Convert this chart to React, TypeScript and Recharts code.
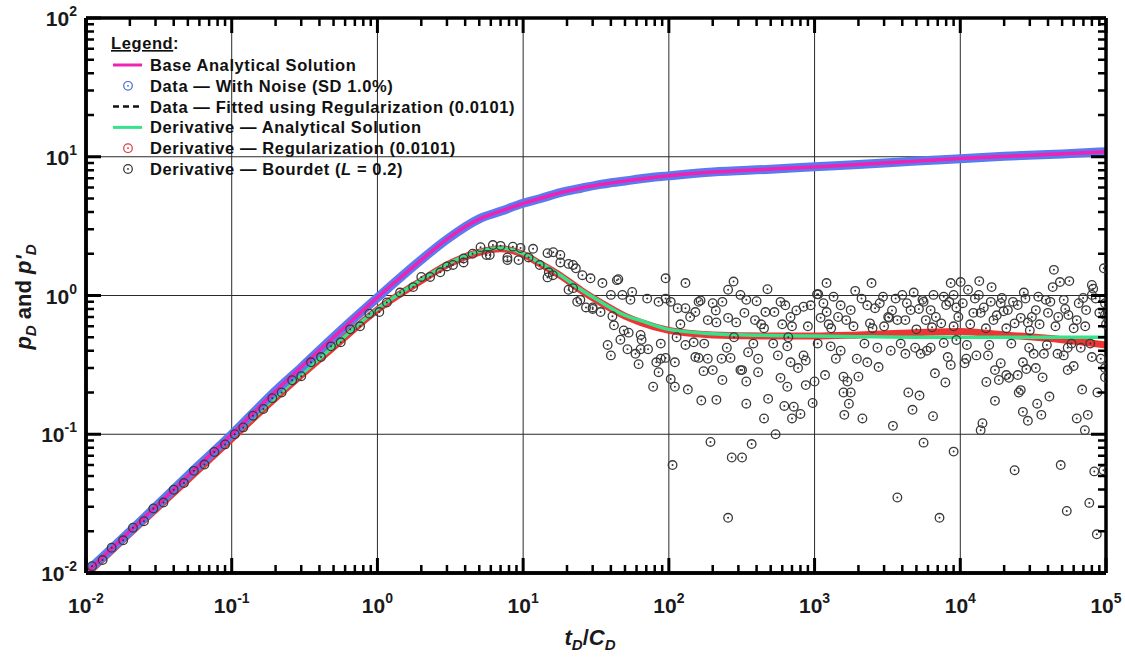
import React from "react";
import { ComposedChart, XAxis, YAxis, CartesianGrid, Line, Scatter, ReferenceLine } from "recharts";

// dimensionless time grid for the smooth curves
const timeGrid = [
  0.01, 0.02, 0.05, 0.1, 0.2, 0.3, 0.5, 1, 2, 3, 5, 7, 10, 13, 18, 25, 34, 50, 64, 100,
  200, 500, 1000, 2000, 5000, 10000, 20000, 50000, 100000,
];
const basePressure = [
  0.01, 0.02, 0.05, 0.1, 0.205, 0.305, 0.5, 0.97, 1.8, 2.55, 3.55, 4.05, 4.6, 5.0, 5.5, 5.95,
  6.3, 6.7, 6.92, 7.3, 7.75, 8.15, 8.45, 8.8, 9.3, 9.7, 10.05, 10.5, 10.85,
];
const noisyPressure = [
  0.0101, 0.0199, 0.0503, 0.0995, 0.206, 0.303, 0.502, 0.965, 1.81, 2.54, 3.57, 4.04, 4.62, 4.98,
  5.52, 5.93, 6.32, 6.68, 6.94, 7.28, 7.77, 8.13, 8.47, 8.78, 9.32, 9.68, 10.07, 10.48, 10.87,
];
const fittedPressure = [
  0.01, 0.02, 0.05, 0.1, 0.205, 0.305, 0.5, 0.97, 1.8, 2.55, 3.55, 4.05, 4.6, 5.0, 5.5, 5.95,
  6.3, 6.7, 6.92, 7.3, 7.75, 8.15, 8.45, 8.8, 9.3, 9.7, 10.05, 10.5, 10.85,
];
const derivAnalytical = [
  0.0098, 0.0195, 0.048, 0.094, 0.185, 0.27, 0.43, 0.8, 1.3, 1.68, 2.08, 2.2, 2.0, 1.72, 1.4, 1.1,
  0.9, 0.72, 0.66, 0.57, 0.53, 0.515, 0.51, 0.505, 0.5, 0.5, 0.5, 0.5, 0.5,
];
const derivRegularized = [
  0.0097, 0.0193, 0.047, 0.093, 0.183, 0.267, 0.425, 0.79, 1.28, 1.66, 2.05, 2.17, 1.98, 1.7, 1.39,
  1.09, 0.89, 0.71, 0.64, 0.56, 0.52, 0.51, 0.51, 0.52, 0.54, 0.55, 0.52, 0.48, 0.44,
];

// Bourdet derivative (L = 0.2): [tD/CD, p'D]
const bourdetPoints: [number, number][] = [
  [0.011, 0.0112], [0.013, 0.0124], [0.015, 0.0152], [0.018, 0.0172], [0.021, 0.0212], [0.025, 0.0236],
  [0.029, 0.0292], [0.034, 0.0322], [0.04, 0.0398], [0.047, 0.0445], [0.055, 0.0545], [0.065, 0.0605],
  [0.076, 0.0745], [0.09, 0.0845], [0.105, 0.1], [0.12, 0.112], [0.14, 0.136], [0.165, 0.152],
  [0.19, 0.182], [0.22, 0.2], [0.26, 0.245], [0.3, 0.262], [0.35, 0.33], [0.41, 0.36], [0.48, 0.43],
  [0.56, 0.46], [0.65, 0.57], [0.76, 0.6], [0.88, 0.74], [1.03, 0.76], [1.16, 0.89], [1.43, 1.05],
  [1.76, 1.15], [2.0, 1.36], [2.3, 1.36], [2.7, 1.47], [3.0, 1.62], [3.3, 1.66], [3.9, 1.85],
  [3.9, 1.73], [4.5, 2.0], [5.1, 2.23], [5.6, 1.96], [5.9, 1.96], [6.2, 2.31], [7.0, 2.28],
  [7.8, 1.8], [7.8, 1.88], [8.5, 2.25], [9.3, 1.8], [9.6, 2.2], [10.9, 1.88], [11.7, 2.17], [13, 1.66],
  [14.7, 2.02], [14.7, 1.35], [15, 1.47], [16.1, 2.05], [16, 1.4], [18, 1.73], [18, 1.96],
  [20.5, 1.69], [20.5, 1.1], [22, 1.66], [22, 1.13], [23, 1.57], [23.5, 0.9], [24.7, 0.93],
  [25.5, 1.4], [27, 0.82], [29, 1.33], [30, 0.8], [30, 0.82], [34, 0.76], [35, 1.23],
  [38, 0.44], [40, 0.37], [40, 1.01], [41, 0.71], [42, 0.61], [44, 1.29], [45, 1.31], [46.5, 0.48],
  [48, 1.01], [49, 0.56], [52, 0.41], [53, 0.54], [54.5, 0.93], [56, 1.06], [59, 0.38], [62, 0.32],
  [64, 0.52], [64, 0.41], [65, 0.48], [71, 0.95], [72, 0.41], [78, 0.22], [82, 0.33], [85, 0.28],
  [85, 0.9], [88, 0.45], [88, 0.35], [95, 1.33], [95, 0.95], [95, 0.355], [103, 0.25], [103, 0.9],
  [106, 0.06], [110, 0.22], [110, 0.33], [113, 0.5], [115, 0.81], [120, 0.62], [130, 1.23], [130, 0.81],
  [130, 0.44], [135, 0.21], [140, 0.7], [148, 0.46], [152, 0.36], [152, 0.76], [160, 0.9], [160, 0.355],
  [165, 0.92], [167, 0.175], [173, 0.285], [175, 0.45], [185, 0.665], [185, 0.35], [193, 0.088], [200, 0.29],
  [200, 0.88], [210, 0.78], [212, 0.177], [212, 0.64], [230, 0.35], [233, 0.246], [233, 0.9], [250, 0.42],
  [255, 1.1], [255, 0.69], [255, 0.025], [265, 0.355], [270, 0.068], [278, 1.26], [280, 0.5], [290, 0.64],
  [310, 1.01], [310, 0.29], [318, 0.29], [318, 0.068], [330, 0.75], [340, 0.93], [340, 0.166],
  [340, 0.24], [350, 0.39], [370, 0.085], [380, 0.45], [390, 0.665], [400, 0.91], [410, 0.35],
  [410, 0.28], [430, 0.62], [450, 0.13], [450, 0.58], [460, 0.76], [475, 1.11], [480, 0.18],
  [520, 0.45], [530, 0.76], [540, 0.1], [560, 0.37], [584, 0.9], [584, 0.255], [600, 0.62], [620, 0.16],
  [630, 0.85], [650, 0.43], [650, 0.22], [660, 0.5], [684, 0.7], [684, 0.33], [700, 0.13], [700, 0.6],
  [720, 0.158], [750, 0.78], [770, 0.3], [800, 0.14], [840, 0.83], [840, 0.37], [870, 0.34],
  [870, 0.226], [900, 0.6], [940, 0.85], [970, 0.168], [1000, 0.24], [1040, 1.02], [1050, 0.45],
  [1060, 1.02], [1100, 0.69], [1150, 0.88], [1180, 0.267], [1208, 1.23], [1210, 0.76], [1250, 0.62],
  [1290, 0.43], [1300, 0.58], [1350, 0.98], [1400, 0.35], [1450, 0.7], [1510, 0.85], [1510, 0.4],
  [1580, 0.26], [1580, 0.2], [1600, 0.138], [1650, 0.665], [1680, 0.24], [1720, 0.166], [1770, 0.785],
  [1770, 0.2], [1850, 0.6], [1900, 1.08], [1950, 0.35], [2000, 0.26], [2100, 0.95], [2130, 0.13],
  [2200, 0.45], [2300, 0.33], [2300, 0.85], [2400, 0.63], [2460, 1.23], [2500, 0.58], [2600, 0.81],
  [2700, 0.42], [2750, 0.305], [2800, 0.88], [2950, 0.98], [3000, 0.6], [3200, 0.7], [3250, 0.69],
  [3330, 0.4], [3400, 0.78], [3450, 0.115], [3600, 0.95], [3700, 0.665], [3700, 0.035], [3900, 0.45],
  [4000, 1.01], [4200, 0.665], [4200, 0.38], [4300, 0.88], [4400, 0.2], [4560, 0.785], [4700, 0.15],
  [4790, 1.05], [4900, 0.42], [5000, 0.57], [5200, 0.8], [5250, 0.19], [5350, 0.38], [5500, 0.93],
  [5600, 0.087], [5800, 0.665], [5600, 0.9], [5900, 0.4], [6260, 0.785], [6260, 0.42], [6400, 0.59],
  [6500, 0.135], [6550, 1.01], [6700, 0.275], [6800, 0.7], [7200, 0.025], [7400, 0.63], [7700, 0.98],
  [7700, 0.455], [7900, 0.236], [8000, 0.854], [8200, 0.36], [8400, 0.9], [8600, 1.23], [8600, 0.316],
  [9000, 1.01], [9000, 0.075], [9000, 0.6], [9400, 0.82], [9400, 0.478], [9700, 0.7], [10060, 1.25],
  [10400, 0.88], [10700, 0.325], [11000, 0.35], [11100, 0.44], [11300, 1.1], [11700, 0.62],
  [12300, 0.75], [12600, 0.95], [12900, 0.37], [13400, 1.01], [13500, 1.27], [13800, 0.75],
  [13800, 0.107], [14200, 0.12], [14500, 0.82], [15000, 0.58], [15100, 0.238], [15500, 0.37],
  [15800, 0.44], [16200, 0.9], [16400, 1.15], [16900, 0.665], [17300, 0.29], [17300, 0.174],
  [17800, 0.72], [18400, 0.246], [18950, 0.88], [18950, 0.325], [19300, 0.96], [19800, 0.77],
  [20700, 0.58], [20700, 0.267], [21200, 0.785], [21600, 0.255], [22400, 0.45], [23000, 0.9],
  [23600, 0.63], [23600, 0.055], [24800, 0.854], [24800, 0.267], [25200, 0.2], [26000, 0.69],
  [26000, 0.208], [26900, 0.33], [26900, 0.145], [27300, 1.05], [28000, 0.95], [28400, 0.295],
  [29100, 0.64], [29100, 0.125], [29700, 0.42], [30000, 0.56], [31000, 0.7], [31900, 0.38],
  [33000, 0.785], [33000, 0.3], [33700, 0.166], [34300, 0.98], [35000, 0.62], [36000, 0.138],
  [36700, 0.257], [37500, 0.38], [38600, 0.93], [39300, 0.44], [40000, 0.75], [40900, 0.187],
  [41500, 0.9], [43100, 1.15], [43900, 1.53], [45000, 0.6], [46500, 0.38], [47000, 0.7], [48300, 1.25],
  [48900, 0.06], [51300, 0.93], [51300, 0.37], [52500, 0.8], [53800, 0.028], [54600, 0.42],
  [54600, 0.29], [55200, 0.724], [56000, 1.27], [58000, 0.45], [60000, 0.31], [60000, 0.58],
  [63000, 0.665], [63000, 0.13], [65000, 0.88], [67100, 0.42], [68600, 0.21], [69700, 0.96],
  [71600, 0.107], [72000, 0.6], [73000, 0.785], [75000, 0.138], [76800, 0.032], [78000, 0.45],
  [80000, 1.19], [80000, 1.01], [80000, 0.36], [81700, 1.12], [83100, 0.054], [85000, 0.95],
  [86500, 0.019], [87300, 0.2], [90000, 0.75], [92100, 0.35], [96000, 0.055], [96700, 1.57],
  [98400, 0.88], [98400, 0.724], [98400, 0.3], [98400, 0.257], [100000, 0.62],
];

const xDecades = [-2, -1, 0, 1, 2, 3, 4, 5];
const yDecades = [-2, -1, 0, 1, 2];
const xGridLines = [0.1, 1, 10, 100, 1000, 10000];
const yGridLines = [0.1, 1, 10];

const legendItems = [
  { label: "Base Analytical Solution", kind: "line", color: "#ee22b4" },
  { label: "Data \u2014 With Noise (SD 1.0%)", kind: "circle", color: "#4a66d8" },
  { label: "Data \u2014 Fitted using Regularization (0.0101)", kind: "dash", color: "#111" },
  { label: "Derivative \u2014 Analytical Solution", kind: "line", color: "#35e38a" },
  { label: "Derivative \u2014 Regularization (0.0101)", kind: "circle", color: "#e0393d" },
  { label: "Derivative \u2014 Bourdet (", kind: "circle", color: "#333" },
];

const FONT = '"Liberation Sans", Arial, Helvetica, sans-serif';

const W = 1125;
const H = 662;
const M = { top: 18, right: 19, bottom: 0, left: 0 };
const Y_AXIS_W = 86;
const X_AXIS_H = 89;
const X_MIN = 0.01, X_MAX = 100000, Y_MIN = 0.01, Y_MAX = 100;

// plot box (same numbers the chart uses for its margins and axis sizes)
const PL = M.left + Y_AXIS_W;
const PR = W - M.right;
const PT = M.top;
const PB = H - M.bottom - X_AXIS_H;

const majorsOf = (exps: number[]) => exps.map((e) => Math.pow(10, e));
const minorsOf = (exps: number[]) => {
  const out: number[] = [];
  exps.slice(0, -1).forEach((e) => {
    for (let m = 2; m <= 9; m++) out.push(Number((m * Math.pow(10, e)).toPrecision(10)));
  });
  return out;
};
const xMajor = majorsOf(xDecades);
const xMinor = minorsOf(xDecades);
const yMajor = majorsOf(yDecades);
const yMinor = minorsOf(yDecades);

const rows = (ys: number[]) => timeGrid.map((x, i) => ({ x, y: ys[i] }));
const bourdetRows = bourdetPoints.map(([x, y]) => ({ x, y }));

const MAJOR_LEN = 15;
const MINOR_LEN = 8;

// log positions for the inward frame ticks
const tickX = (v: number) => PL + ((Math.log10(v) - Math.log10(X_MIN)) / Math.log10(X_MAX / X_MIN)) * (PR - PL);
const tickY = (v: number) => PB - ((Math.log10(v) - Math.log10(Y_MIN)) / Math.log10(Y_MAX / Y_MIN)) * (PB - PT);

const FrameTicks = () => {
  const parts: React.ReactNode[] = [];
  const vert = (v: number, len: number, w: number) => {
    const x = tickX(v);
    parts.push(<path key={`x${v}`} d={`M${x},${PB}V${PB - len}M${x},${PT}V${PT + len}`} stroke="#000" strokeWidth={w} />);
  };
  const horiz = (v: number, len: number, w: number) => {
    const y = tickY(v);
    parts.push(<path key={`y${v}`} d={`M${PL},${y}H${PL + len}M${PR},${y}H${PR - len}`} stroke="#000" strokeWidth={w} />);
  };
  xMajor.forEach((v) => vert(v, MAJOR_LEN, 3));
  xMinor.forEach((v) => vert(v, MINOR_LEN, 2.5));
  yMajor.forEach((v) => horiz(v, MAJOR_LEN, 3));
  yMinor.forEach((v) => horiz(v, MINOR_LEN, 2.5));
  return <g fill="none">{parts}</g>;
};

const Pow10 = ({ x, y, value, anchor }: any) => (
  <text x={x} y={y} textAnchor={anchor} fontFamily={FONT} fontWeight="bold" fontSize={21} fill="#1a1a1a">
    10
    <tspan dy={-10} fontSize={14}>
      {Math.round(Math.log10(value))}
    </tspan>
  </text>
);

const BottomLabel = (props: any) => (
  <Pow10 x={props.x} y={props.y + 40} value={props.payload.value} anchor="middle" />
);
const LeftLabel = (props: any) => (
  <Pow10 x={props.x - 9} y={props.y + 8} value={props.payload.value} anchor="end" />
);

const BourdetDot = (props: any) => {
  const { cx, cy } = props;
  if (cx == null || cy == null) return null;
  return (
    <g>
      <circle cx={cx} cy={cy} r={4.3} fill="none" stroke="#3a3a3a" strokeWidth={1.3} />
      <circle cx={cx} cy={cy} r={1} fill="#333" />
    </g>
  );
};

const Overlay = () => (
  <svg width={W} height={H} style={{ position: "absolute", left: 0, top: 0, pointerEvents: "none" }} fontFamily={FONT}>
    <FrameTicks />
    <text x={111} y={49} fontSize={16.5} fontWeight="bold" fill="#111" letterSpacing={0.6} textDecoration="underline">
      Legend
    </text>
    <text x={173} y={49} fontSize={16.5} fontWeight="bold" fill="#111">
      :
    </text>
    {legendItems.map((item, i) => {
      const cy = 65 + i * 20.8;
      return (
        <g key={item.label}>
          {item.kind === "line" && <line x1={113} x2={142} y1={cy} y2={cy} stroke={item.color} strokeWidth={3} />}
          {item.kind === "dash" && (
            <line x1={113} x2={141} y1={cy} y2={cy} stroke={item.color} strokeWidth={2.5} strokeDasharray="6 4" />
          )}
          {item.kind === "circle" && (
            <g>
              <circle cx={128} cy={cy} r={4.3} fill="none" stroke={item.color} strokeWidth={1.2} />
              <circle cx={128} cy={cy} r={0.9} fill={item.color} />
            </g>
          )}
          <text x={150} y={cy + 6} fontSize={16.5} fontWeight="bold" fill="#111" letterSpacing={0.6}>
            {item.label}
            {i === legendItems.length - 1 && (
              <>
                <tspan fontStyle="italic">L</tspan>
                <tspan> = 0.2)</tspan>
              </>
            )}
          </text>
        </g>
      );
    })}
    <text transform="translate(31,297) rotate(-90)" textAnchor="middle" fontSize={22} fontWeight="bold" fill="#1a1a1a">
      <tspan fontStyle="italic">p</tspan>
      <tspan fontStyle="italic" fontSize={15} dy={5}>D</tspan>
      <tspan dy={-5}> and </tspan>
      <tspan fontStyle="italic">p'</tspan>
      <tspan fontStyle="italic" fontSize={15} dy={5}>D</tspan>
    </text>
    <text x={590} y={645} textAnchor="middle" fontSize={22} fontWeight="bold" fill="#1a1a1a">
      <tspan fontStyle="italic">t</tspan>
      <tspan fontStyle="italic" fontSize={15} dy={5}>D</tspan>
      <tspan dy={-5}>/</tspan>
      <tspan fontStyle="italic">C</tspan>
      <tspan fontStyle="italic" fontSize={15} dy={5}>D</tspan>
    </text>
  </svg>
);

export default function App() {
  const axisLine = { stroke: "#000", strokeWidth: 3.5 };
  return (
    <div style={{ position: "absolute", left: 0, top: 0, width: W, height: H, background: "#fff" }}>
      <ComposedChart width={W} height={H} margin={M}>
        <CartesianGrid verticalValues={xGridLines} horizontalValues={yGridLines} stroke="#2a2a2a" strokeWidth={1} />
        <XAxis dataKey="x" type="number" scale="log" domain={[X_MIN, X_MAX]} allowDataOverflow ticks={xMajor}
          interval={0} height={X_AXIS_H} tickSize={0} tickMargin={0} tickLine={false} axisLine={axisLine}
          tick={<BottomLabel />} />
        <YAxis dataKey="y" type="number" scale="log" domain={[Y_MIN, Y_MAX]} allowDataOverflow ticks={yMajor}
          interval={0} width={Y_AXIS_W} tickSize={0} tickMargin={0} tickLine={false} axisLine={axisLine}
          tick={<LeftLabel />} />
        <Scatter name="Derivative — Bourdet" data={bourdetRows} dataKey="y" shape={<BourdetDot />}
          isAnimationActive={false} />
        <Line name="Derivative — Regularization" data={rows(derivRegularized)} dataKey="y" type="monotone"
          stroke="#ef3434" strokeWidth={7} dot={false} isAnimationActive={false} />
        <Line name="Derivative — Analytical" data={rows(derivAnalytical)} dataKey="y" type="monotone"
          stroke="#35e38a" strokeWidth={3.5} dot={false} isAnimationActive={false} />
        <Line name="Data — With Noise" data={rows(noisyPressure)} dataKey="y" type="monotone"
          stroke="#5a7bef" strokeWidth={9} dot={false} isAnimationActive={false} />
        <Line name="Data — Fitted" data={rows(fittedPressure)} dataKey="y" type="monotone"
          stroke="#111" strokeWidth={2} strokeDasharray="6 4" dot={false} isAnimationActive={false} />
        <Line name="Base Analytical Solution" data={rows(basePressure)} dataKey="y" type="monotone"
          stroke="#ee22b4" strokeWidth={3.5} dot={false} isAnimationActive={false} />
        <ReferenceLine x={X_MIN} stroke="#000" strokeWidth={3.5} ifOverflow="visible" />
        <ReferenceLine x={X_MAX} stroke="#000" strokeWidth={3.5} ifOverflow="visible" />
        <ReferenceLine y={Y_MIN} stroke="#000" strokeWidth={3.5} ifOverflow="visible" />
        <ReferenceLine y={Y_MAX} stroke="#000" strokeWidth={3.5} ifOverflow="visible" />
      </ComposedChart>
      <Overlay />
    </div>
  );
}
